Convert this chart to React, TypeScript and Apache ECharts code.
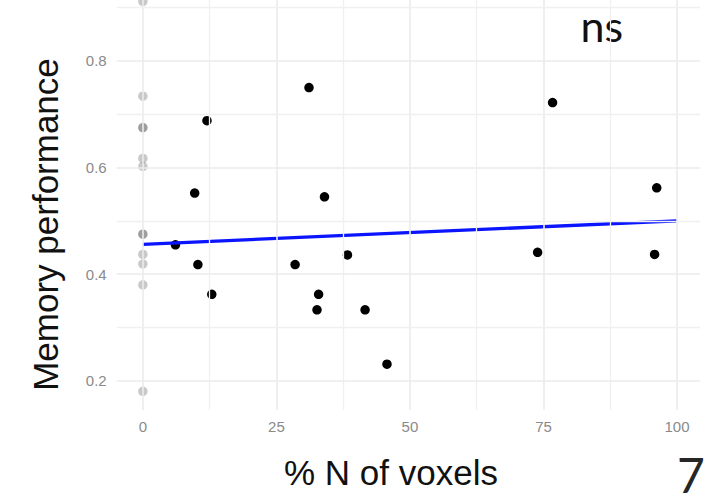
import React, { useEffect, useRef } from "react";
import * as echarts from "echarts";

// Points at 0 % (drawn semi-transparent in the reference)
const zeroX: number[] = [0, 0, 0, 0, 0, 0, 0, 0, 0, 0, 0, 0];
const zeroY: number[] = [0.912, 0.734, 0.675, 0.675, 0.617, 0.602, 0.475, 0.475, 0.437, 0.419, 0.38, 0.18];

// Points with voxels > 0 %
const voxX: number[] = [6.1, 9.7, 10.3, 12.0, 12.9, 28.5, 31.1, 32.6, 32.9, 34.0, 38.3, 41.6, 45.7, 73.9, 76.7, 95.8, 96.2];
const voxY: number[] = [0.455, 0.552, 0.418, 0.688, 0.362, 0.418, 0.75, 0.333, 0.362, 0.545, 0.436, 0.333, 0.231, 0.441, 0.722, 0.437, 0.562];

// Linear fit line end points
const fitX: number[] = [0, 100];
const fitY: number[] = [0.456, 0.5];

// Ticks and grid lines
const xTicks: number[] = [0, 25, 50, 75, 100];
const xMinor: number[] = [12.5, 37.5, 62.5, 87.5];
const yTicks: number[] = [0.2, 0.4, 0.6, 0.8];
const yMinor: number[] = [0.3, 0.5, 0.7, 0.9];

const xTitle = "% N of voxels";
const yTitle = "Memory performance";
const sigLabel = "ns";
const panelLabel = "7";

export default function App() {
  const ref = useRef<HTMLDivElement>(null);
  useEffect(() => {
    if (!ref.current) return;
    const chart = echarts.init(ref.current, null, { renderer: "svg" });
    const major = { color: "#ebebeb", width: 1.6, type: "solid" };
    const minor = { color: "#f0f0f0", width: 1.3, type: "solid" };
    const gridLines = [
      ...xTicks.map((v) => ({ xAxis: v, lineStyle: major })),
      ...xMinor.map((v) => ({ xAxis: v, lineStyle: minor })),
      ...yTicks.map((v) => ({ yAxis: v, lineStyle: major })),
      ...yMinor.map((v) => ({ yAxis: v, lineStyle: minor })),
    ];
    chart.setOption({
      animation: false,
      backgroundColor: "#ffffff",
      grid: { left: 116.7, right: 12, top: 0, bottom: 92 },
      xAxis: {
        type: "value",
        min: -4.9,
        max: 104.3,
        axisLine: { show: false },
        axisTick: { show: false },
        splitLine: { show: false },
        axisLabel: {
          customValues: xTicks,
          color: "#8a8a8a",
          fontSize: 15,
          fontFamily: "Liberation Sans",
          margin: 9,
        },
      },
      yAxis: {
        type: "value",
        min: 0.145,
        max: 0.9144,
        axisLine: { show: false },
        axisTick: { show: false },
        splitLine: { show: false },
        axisLabel: {
          customValues: yTicks,
          formatter: (v: number) => v.toFixed(1),
          color: "#8a8a8a",
          fontSize: 15,
          fontFamily: "Liberation Sans",
          margin: 10,
        },
      },
      series: [
        {
          type: "line",
          data: [],
          z: 0,
          silent: true,
          markLine: {
            silent: true,
            symbol: ["none", "none"],
            label: { show: false },
            emphasis: { disabled: true },
            data: gridLines,
          },
        },
        {
          type: "scatter",
          z: 2,
          symbolSize: 9.5,
          itemStyle: { color: "rgba(0,0,0,0.21)", opacity: 1 },
          data: zeroX.map((x, i) => [x, zeroY[i]]),
        },
        {
          type: "scatter",
          z: 3,
          symbolSize: 9.5,
          itemStyle: { color: "#000000", opacity: 1 },
          data: voxX.map((x, i) => [x, voxY[i]]),
        },
        {
          type: "line",
          z: 4,
          showSymbol: false,
          symbol: "none",
          lineStyle: { color: "#0a14ff", width: 3.3 },
          data: fitX.map((x, i) => [x, fitY[i]]),
        },
      ],
      graphic: [
        {
          type: "text",
          x: 45,
          y: 224.5,
          rotation: Math.PI / 2,
          style: {
            text: yTitle,
            fontSize: 35,
            fontFamily: "Liberation Sans",
            fill: "#111111",
            align: "center",
            verticalAlign: "middle",
          },
        },
        {
          type: "text",
          x: 391,
          y: 472,
          style: {
            text: xTitle,
            fontSize: 35,
            fontFamily: "Liberation Sans",
            fill: "#111111",
            align: "center",
            verticalAlign: "middle",
          },
        },
        {
          type: "text",
          x: 601.7,
          y: 25,
          style: {
            text: sigLabel,
            fontSize: 43,
            fontFamily: "Lato",
            fill: "#111111",
            align: "center",
            verticalAlign: "middle",
          },
        },
        {
          type: "text",
          x: 677,
          y: 474,
          style: {
            text: panelLabel,
            fontSize: 48,
            fontFamily: "Lato",
            fill: "#262626",
            align: "left",
            verticalAlign: "middle",
          },
        },
      ],
    });
    return () => chart.dispose();
  }, []);
  return (
    <div
      ref={ref}
      style={{ position: "fixed", left: 0, top: 0, width: 712, height: 502 }}
    />
  );
}
